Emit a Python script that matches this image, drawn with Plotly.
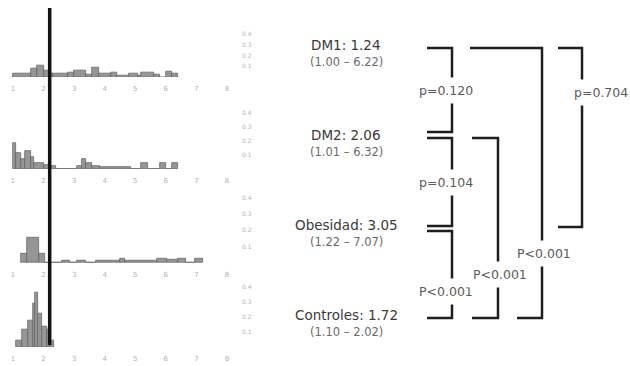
import plotly.graph_objects as go

# ---------------- data ----------------
groups = ["DM1", "DM2", "Obesidad", "Controles"]
medians = ["1.24", "2.06", "3.05", "1.72"]
ranges_txt = ["(1.00 – 6.22)", "(1.01 – 6.32)", "(1.22 – 7.07)", "(1.10 – 2.02)"]

dm1_edges = [1.0, 1.6, 1.8, 2.0, 2.2, 2.3, 2.8, 3.0, 3.4, 3.6, 3.8, 4.2, 4.4, 4.8, 5.1, 5.2, 5.6, 5.8, 6.0, 6.2, 6.4]
dm1_heights = [0.03, 0.08, 0.11, 0.065, 0.03, 0.03, 0.045, 0.065, 0.02, 0.085, 0.03, 0.045, 0.015, 0.035, 0.01, 0.045, 0.02, 0, 0.055, 0.03]

dm2_edges = [1.0, 1.1, 1.25, 1.4, 1.6, 1.7, 2.0, 2.2, 2.4, 3.1, 3.25, 3.4, 3.6, 3.85, 4.85, 5.2, 5.4, 5.8, 6.0, 6.2, 6.4]
dm2_heights = [0.185, 0.115, 0.07, 0.13, 0.085, 0.045, 0.03, 0.02, 0, 0.02, 0.07, 0.045, 0.02, 0.015, 0, 0.045, 0, 0.045, 0, 0.045]

obe_edges = [1.25, 1.45, 1.85, 2.05, 2.6, 2.85, 3.1, 3.4, 3.7, 4.5, 4.65, 5.7, 6.05, 6.4, 6.65, 6.95, 7.2]
obe_heights = [0.055, 0.155, 0.055, 0, 0.015, 0, 0.012, 0, 0.012, 0.03, 0.015, 0.03, 0.018, 0.03, 0, 0.03]

ctl_edges = [1.1, 1.3, 1.5, 1.65, 1.72, 1.82, 1.95, 2.1, 2.2, 2.35]
ctl_heights = [0.045, 0.115, 0.18, 0.29, 0.365, 0.225, 0.135, 0.115, 0.045]

cutoff = 2.2
x_ticks = [1, 2, 3, 4, 5, 6, 7, 8]
y_ticks = [0.1, 0.2, 0.3, 0.4]

comparisons = [
    ("DM1", "DM2", "p=0.120"),
    ("DM2", "Obesidad", "p=0.104"),
    ("Obesidad", "Controles", "P<0.001"),
    ("DM2", "Controles", "P<0.001"),
    ("DM1", "Controles", "P<0.001"),
    ("DM1", "Obesidad", "p=0.704"),
]

# ---------------- layout / style ----------------
W, H = 630, 366
hists = [(dm1_edges, dm1_heights), (dm2_edges, dm2_heights),
         (obe_edges, obe_heights), (ctl_edges, ctl_heights)]
# (baseline px, top px) for each histogram panel
panel_px = [(77, 23.5), (169, 106), (263, 189.6), (347, 279.5)]
y_top_val = [0.5, 0.45, 0.45, 0.45]
x_range = [0.575, 8.36]
x_dom = [0, 238 / W]

# bracket styling: column x, left-top x, left-bottom x, top offset px, bottom offset px, label frac, label x
br_style = [
    (452, 427, 427, 0, -6, 0.5, 446),
    (452, 427, 427, 0, -2, 0.5, 446),
    (452, 427, 427, 3, 0, 0.70, 446),
    (498, 472, 472, 0, 0, 0.76, 500),
    (542, 470, 517, 0, 0, 0.76, 544),
    (582, 558, 558, 0, -1, 0.25, 601),
]
grp_px0, grp_step = 48, 90  # pixel of first group and spacing

fig = go.Figure()

bar_color = "#969696"
for i, (edges, heights) in enumerate(hists):
    xs = [(edges[k] + edges[k + 1]) / 2 for k in range(len(heights))]
    ws = [edges[k + 1] - edges[k] for k in range(len(heights))]
    ax = "" if i == 0 else str(i + 1)
    fig.add_trace(go.Bar(x=xs, y=heights, width=ws, xaxis="x" + ax, yaxis="y" + ax,
                         marker=dict(color=bar_color, line=dict(color="#5e5e5e", width=0.7)),
                         showlegend=False, hoverinfo="skip"))
    base, top = panel_px[i]
    fig.layout["xaxis" + ax] = dict(domain=x_dom, range=x_range, anchor="y" + ax,
                                   tickvals=x_ticks, showgrid=False, zeroline=False, showline=False,
                                   ticks="", tickfont=dict(size=7, color="#b0b0b0", family="DejaVu Sans"),
                                   ticklabelstandoff=6)
    fig.layout["yaxis" + ax] = dict(domain=[1 - base / H, 1 - top / H], range=[0, y_top_val[i]],
                                   anchor="x" + ax, side="right", tickvals=y_ticks,
                                   ticktext=[f"{v:.1f}" for v in y_ticks],
                                   showgrid=False, zeroline=False, showline=False, ticks="",
                                   tickfont=dict(size=6, color="#b4b4b4", family="DejaVu Sans"),
                                   ticklabelstandoff=3)

# thick cutoff line across all panels
fig.add_shape(type="line", xref="x", yref="paper", x0=cutoff, x1=cutoff,
              y0=1 - 345 / H, y1=1 - 8 / H, line=dict(color="#111111", width=3.5))

# right panel: bracket axis
gi = {g: k for k, g in enumerate(groups)}
fig.layout["xaxis5"] = dict(domain=[0, 1], range=[0, W], visible=False, anchor="y5")
fig.layout["yaxis5"] = dict(domain=[0, 1], range=[(H - grp_px0) / grp_step, -grp_px0 / grp_step],
                            visible=False, anchor="x5")

line_style = dict(color="#1e1e1e", width=2.5)
for (a, b, ptxt), (cx, lt, lb, ot, ob, frac, lx) in zip(comparisons, br_style):
    ya = gi[a] + ot / grp_step
    yb = gi[b] + ob / grp_step
    fig.add_trace(go.Scatter(x=[lt, cx, cx, lb], y=[ya, ya, yb, yb], mode="lines",
                             line=line_style, xaxis="x5", yaxis="y5",
                             showlegend=False, hoverinfo="skip"))
    fig.add_annotation(x=lx, y=ya + (yb - ya) * frac, xref="x5", yref="y5", text=ptxt,
                       showarrow=False, bgcolor="white", borderpad=5,
                       font=dict(size=12.5, color="#5a5a5a", family="DejaVu Sans"))

for k, g in enumerate(groups):
    fig.add_annotation(x=346, y=k - 3 / grp_step, xref="x5", yref="y5",
                       text=f"{g}: {medians[k]}", showarrow=False,
                       font=dict(size=13.5, color="#3a3a3a", family="DejaVu Sans"))
    fig.add_annotation(x=346, y=k + 14 / grp_step, xref="x5", yref="y5",
                       text=ranges_txt[k], showarrow=False,
                       font=dict(size=11.5, color="#6a6a6a", family="DejaVu Sans"))

fig.update_layout(width=W, height=H, margin=dict(l=0, r=0, t=0, b=0),
                  paper_bgcolor="white", plot_bgcolor="rgba(0,0,0,0)",
                  bargap=0, showlegend=False)

fig.write_html("out.html", config={"displayModeBar": False},
               post_script="document.body.style.margin='0px';")
